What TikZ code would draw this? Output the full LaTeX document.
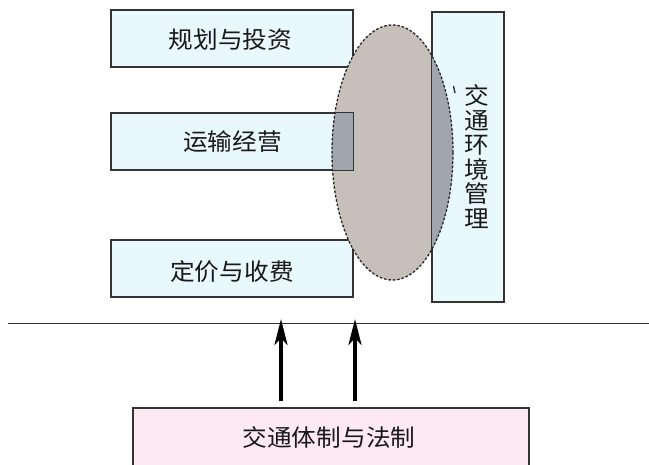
\documentclass[tikz,border=0pt]{standalone}
\usepackage{fontspec}
\newfontfamily\cjk[FakeStretch=1.05]{Noto Sans CJK SC}
\usetikzlibrary{arrows.meta}
\definecolor{boxcyan}{HTML}{E8F8FC}
\definecolor{ellfill}{HTML}{C6C0BA}
\definecolor{overlap}{HTML}{A0A5AE}
\definecolor{pinkfill}{HTML}{FDE9F1}
\definecolor{edge}{HTML}{333333}
\begin{document}
\begin{tikzpicture}[x=1pt,y=-1pt,
  box/.style={draw=edge, line width=1.2pt, fill=boxcyan, minimum width=242pt, minimum height=57pt, inner sep=0pt},
  lbl/.style={font=\cjk\fontsize{23.5}{24.5}\selectfont, text=black!90},
  arr/.style={-{Stealth[length=26pt,width=13pt,inset=7pt]}, line width=3.6pt, black},
  ell/.style={draw=black!85, line width=1.3pt, dash pattern=on 2.6pt off 1.8pt}]
\useasboundingbox (0,0) rectangle (649,464);
\clip (0,0) rectangle (649,464);
\fill[white] (0,0) rectangle (649,464);
% boxes
\node[box] (b1) at (232,38.5) {};
\node[box] (b2) at (232,141.5) {};
\node[box] (b3) at (232,268.5) {};
\node[box, minimum width=72pt, minimum height=290pt] (env) at (468,157) {};
% ellipse
\fill[ellfill] (392.5,152.5) ellipse [x radius=60.5, y radius=127.5];
\begin{scope}
  \clip (392.5,152.5) ellipse [x radius=60.5, y radius=127.5];
  \fill[overlap] (b2.north west) rectangle (b2.south east);
  \fill[overlap] (env.north west) rectangle (env.south east);
\end{scope}
\draw[edge, line width=1.2pt] (b2.north west) rectangle (b2.south east);
\draw[edge, line width=1.2pt] (env.north west) rectangle (env.south east);
\draw[ell] (392.5,152.5) ellipse [x radius=60.5, y radius=127.5];
% labels
\node[lbl] (t1) at (230.5,40) {规划与投资};
\node[lbl] (t2) at (232.5,142) {运输经营};
\node[lbl] (t3) at (232,272) {定价与收费};
\node[lbl, align=center] (t4) at (476.5,156.5) {交\\通\\环\\境\\管\\理};
\draw[black!80, line width=1.4pt] (453.5,86) -- (455,93);
% base line
\coordinate (hl) at (8,323);
\coordinate (hr) at (649,323);
\draw[edge, line width=1pt] (hl) -- (hr);
% law box
\node[draw=edge, line width=1.2pt, fill=pinkfill, minimum width=396pt, minimum height=60pt, inner sep=0pt] (law) at (331,438) {};
\node[lbl] (t5) at (329,437.5) {交通体制与法制};
\coordinate (a1) at (281,319);
\coordinate (a2) at (355,319);
\draw[arr, shorten <=6pt] (law.north -| a1) -- (a1);
\draw[arr, shorten <=6pt] (law.north -| a2) -- (a2);
\end{tikzpicture}
\end{document}
